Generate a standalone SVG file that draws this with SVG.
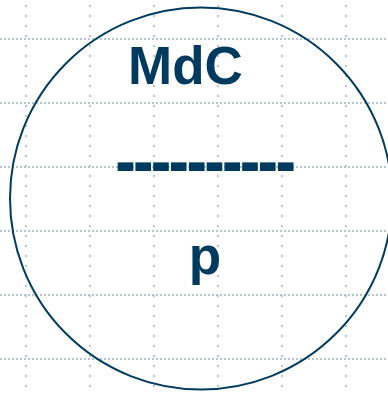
<svg xmlns="http://www.w3.org/2000/svg" width="388" height="393" viewBox="0 0 388 393">
<style>
.gh{stroke:#b3c6d2;stroke-width:2;stroke-dasharray:2 2;fill:none}
.gv{stroke:#b3c6d2;stroke-width:2;stroke-dasharray:2 8;fill:none}
.t{font-family:"Liberation Sans",Arial,sans-serif;font-weight:bold;fill:#003b5f;text-anchor:middle}
</style>
<rect width="388" height="393" fill="#ffffff"/>
<g id="grid">
<path class="gh" d="M0 39H388M0 103H388M0 167H388M0 231H388M0 295H388M0 359H388"/>
<path class="gv" d="M26 5V393M90 5V393M154 5V393M218 5V393M282 5V393M346 5V393"/>
</g>
<g id="node">
<circle cx="201" cy="198.5" r="191" fill="none" stroke="#003b5f" stroke-width="2"/>
<text class="t" x="185.5" y="84" font-size="53">MdC</text>
<text class="t" transform="scale(0.857,1)" x="134.4" y="184.6" font-size="72" letter-spacing="-3.2" style="text-anchor:start">----------</text>
<text class="t" x="205" y="274" font-size="53">p</text>
</g>
</svg>
